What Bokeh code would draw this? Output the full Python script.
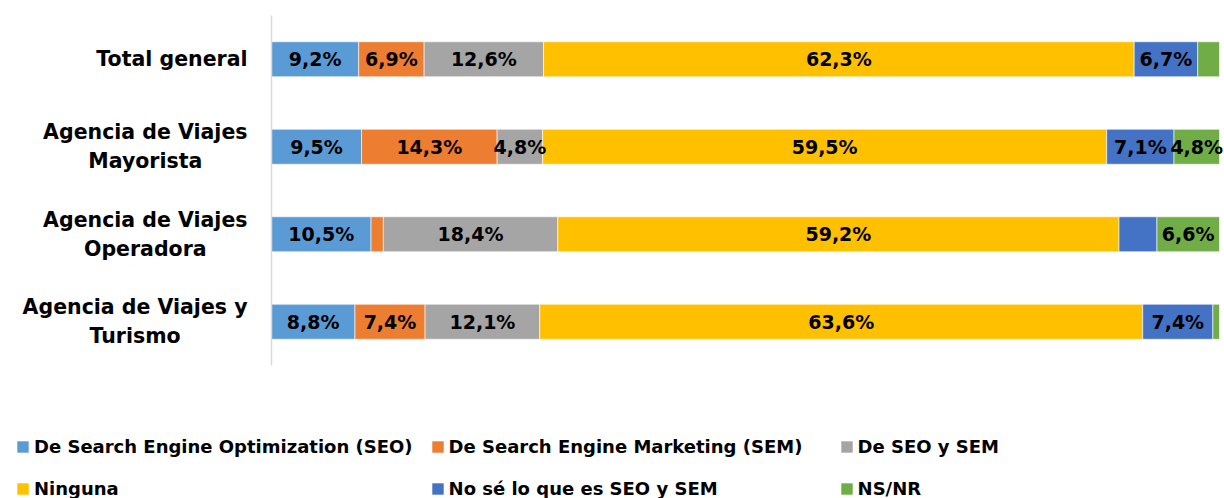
from bokeh.plotting import figure
from bokeh.models import ColumnDataSource, Legend, LegendItem, Range1d
from bokeh.embed import file_html
from bokeh.resources import INLINE
from bokeh.core.properties import value

categories = ["Total general", "Agencia de Viajes\nMayorista", "Agencia de Viajes\nOperadora", "Agencia de Viajes y\nTurismo"]
series_names = ["De Search Engine Optimization (SEO)", "De Search Engine Marketing (SEM)", "De SEO y SEM",
                "Ninguna", "No sé lo que es SEO y SEM", "NS/NR"]
seo = [9.2, 9.5, 10.5, 8.8]
sem = [6.9, 14.3, 1.3, 7.4]
seo_sem = [12.6, 4.8, 18.4, 12.1]
ninguna = [62.3, 59.5, 59.2, 63.6]
no_se = [6.7, 7.1, 4.0, 7.4]
nsnr = [2.3, 4.8, 6.6, 0.7]
colors = ["#5B9BD5", "#ED7D31", "#A5A5A5", "#FFC000", "#4472C4", "#70AD47"]

keys = ["seo", "sem", "seo_sem", "ninguna", "no_se", "nsnr"]
series = [seo, sem, seo_sem, ninguna, no_se, nsnr]
n = len(categories)
data = {"cat": categories, "pos": list(range(n))}
for k, s in zip(keys, series):
    data[k] = s
source = ColumnDataSource(data)

FONT = "DejaVu Sans"

# layout (pixels): plot area of the bars spans x 271..1219, rows 87.5 px apart starting at y=15
W, H = 1224, 498
X0, X1 = 271, 1219
ROW, TOP = 87.5, 15
ppu = (X1 - X0) / 100.0
x_range = Range1d(-X0 / ppu, (W - X0) / ppu)
y_top = -0.5 - TOP / ROW
y_bot = y_top + H / ROW
y_range = Range1d(y_bot, y_top)   # inverted: first category at the top

p = figure(x_range=x_range, y_range=y_range, width=W, height=H,
           output_backend="svg", toolbar_location=None,
           min_border_left=0, min_border_right=0, min_border_top=0, min_border_bottom=0)
p.outline_line_color = None
p.axis.visible = False
p.grid.visible = False

renderers = p.hbar_stack(keys, y="pos", height=0.4, color=colors, source=source,
                         line_color="white", line_width=0.6)

# vertical category axis line
p.segment(x0=[0], y0=[-0.5], x1=[0], y1=[n - 0.5], line_color="#D9D9D9", line_width=1.5)

# category labels
p.text(x=[0] * n, y=list(range(n)), text=categories, x_offset=-24,
       anchor="center_right", text_align="center", text_baseline="middle",
       text_font=value(FONT), text_font_style="bold", text_font_size="20.5px",
       text_color="black", text_line_height=1.2)

# data labels (segments too narrow are left unlabeled, as in the original)
lx, ly, lt = [], [], []
for i in range(n):
    cum = 0.0
    for s in series:
        v = s[i]
        if v >= 4.5:
            lx.append(cum + v / 2)
            ly.append(i)
            lt.append(f"{v:.1f}".replace(".", ",") + "%")
        cum += v
lsrc = ColumnDataSource(dict(x=lx, y=ly, t=lt))
p.text(x="x", y="y", text="t", source=lsrc, text_align="center", text_baseline="middle",
       text_font=value(FONT), text_font_style="bold", text_font_size="19px", text_color="black")

# legend: 2 rows x 3 columns (Bokeh fills column by column)
order = [0, 3, 1, 4, 2, 5]
items = [LegendItem(label=series_names[i], renderers=[renderers[i]]) for i in order]
legend = Legend(items=items, ncols=3, location=(15, -3), padding=0, margin=0,
                border_line_color=None, background_fill_alpha=0,
                glyph_width=15, glyph_height=15, label_standoff=4, label_width=373,
                label_height=25, spacing=17,
                label_text_font=FONT, label_text_font_style="bold",
                label_text_font_size="18px", label_text_color="black")
p.add_layout(legend, "center")

open("out.html", "w").write(file_html(p, INLINE))
